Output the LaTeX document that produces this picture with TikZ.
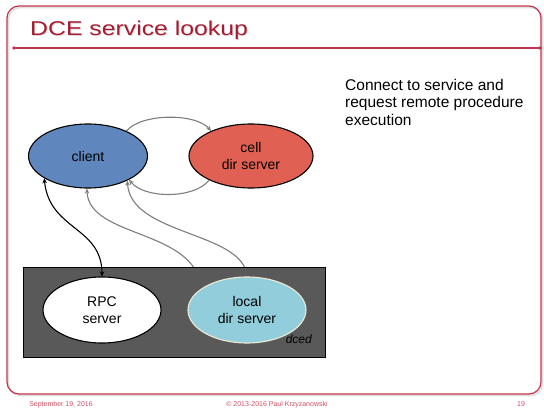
\documentclass[tikz,border=0pt]{standalone}
\usepackage{fontspec}
\setmainfont{Liberation Sans}
\usetikzlibrary{shapes.geometric,arrows.meta,backgrounds}
\definecolor{framered}{RGB}{192,52,76}
\definecolor{titlered}{RGB}{166,27,48}
\definecolor{footred}{RGB}{205,80,100}
\definecolor{clientblue}{RGB}{96,135,189}
\definecolor{cellred}{RGB}{224,97,83}
\definecolor{localblue}{RGB}{146,205,220}
\definecolor{rimcream}{RGB}{238,234,214}
\definecolor{dcedgray}{RGB}{89,89,89}
\definecolor{arrowgray}{RGB}{125,125,125}
\newcommand{\slidetitle}{\scalebox{1.24}[1]{DCE service lookup}}
\begin{document}
\begin{tikzpicture}[x=1pt,y=-1pt,
    ell/.style={ellipse,draw,line width=1.1pt,align=center,inner sep=0pt,
      font=\fontsize{14}{16.5}\selectfont},
    smalltip/.tip={Stealth[length=5pt,width=4.5pt]},
    garr/.style={draw=arrowgray,line width=1.1pt,-smalltip},
    ttl/.style={anchor=base west,inner sep=0pt,font=\fontsize{20}{24}\selectfont},
    ft/.style={font=\fontsize{7}{8}\selectfont,text=footred,inner sep=0pt,anchor=base}]
    \useasboundingbox (0,0) rectangle (544,409);
    \draw[gray!25,line width=1.6pt,rounded corners=12pt] (8.5,7.5) rectangle (542.5,395.5);
    \draw[framered,line width=1.2pt,rounded corners=12pt] (7,6) rectangle (541,394);
    \draw[framered,line width=1.2pt] (14,48) -- (540,48);
    \fill[framered] (14,48) circle (1.8pt) (540,48) circle (1.8pt);
    \node (titleshadow) [ttl,text=gray!28] at (31,37) {\slidetitle};
    \node (title) [ttl,text=titlered] at (30,36) {\slidetitle};
    \node (desc) [anchor=north west,inner sep=0pt,align=left,font=\fontsize{15.5}{17.5}\selectfont] at (345,78.7)
        {Connect to service and\\request remote procedure\\execution};
    \node (dced) [draw,line width=1pt,fill=dcedgray,minimum width=302pt,minimum height=90pt,inner sep=0pt] at (174,312) {};
    \node (dcedlbl) [anchor=base east,inner sep=0pt,font=\fontsize{12}{14}\selectfont\itshape] at (312,343) {dced};
    \node (client) [ell,fill=clientblue,minimum width=119pt,minimum height=64pt] at (88,156) {client};
    \node (cell) [ell,fill=cellred,minimum width=124pt,minimum height=64pt] at (251,156) {cell\\dir server};
    \node (rpc) [ell,fill=white,minimum width=118pt,minimum height=66pt] at (102,310) {RPC\\server};
    \node (local) [ell,draw=rimcream,fill=localblue,minimum width=118pt,minimum height=66pt] at (247,310) {local\\dir server};
    \draw[garr] (client.33) .. controls +(15,-18) and +(-15,-18) .. (cell.148);
    \draw[garr] (cell.210) .. controls +(-15,19) and +(15,19) .. (client.330);
    \draw[line width=1.1pt,smalltip-smalltip] (client.207) .. controls +(5,52) and +(0,-50) .. (rpc.north);
    \begin{pgfonlayer}{background}
        \draw[garr] (local.155) .. controls +(-5,-60) and +(2,50) .. (client.268);
        \draw[garr] (local.north) .. controls +(-3,-45) and +(3,55) .. (client.328);
    \end{pgfonlayer}
    \node (date) [ft] at (61,406.5) {September 19, 2016};
    \node (copy) [ft] at (277,406.5) {© 2013-2016 Paul Krzyzanowski};
    \node (page) [ft] at (521,406.5) {19};
\end{tikzpicture}
\end{document}
